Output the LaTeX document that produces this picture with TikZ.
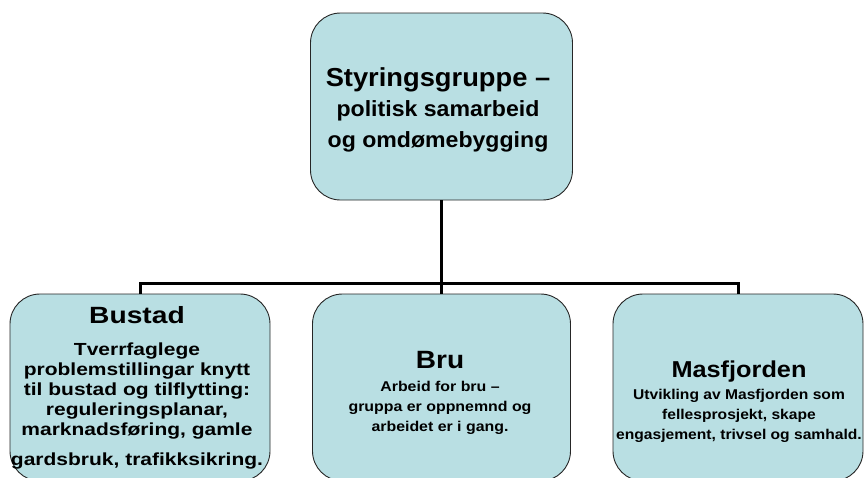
\documentclass[tikz,border=0pt]{standalone}
\usepackage{fontspec}
\setmainfont{Liberation Sans}
\usepackage{xcolor}
\usetikzlibrary{positioning}
\definecolor{boxblue}{RGB}{185,223,227}

\begin{document}
\begin{tikzpicture} [x = 1pt, y = -1pt,
	box/.style = {draw=black!85, fill=boxblue, line width=0.9pt, rounded corners=30pt, inner sep=0pt},
	txt/.style = {inner sep=0pt, align=center, anchor=north},
	link/.style = {line width=3pt}]
			\useasboundingbox (0,0) rectangle (864,477);
			\clip (0,0) rectangle (864,477);
			
			\node[box, minimum width=262pt, minimum height=187pt] (styr) at (441.5,106.5) {};
			\node[box, minimum width=260pt, minimum height=187pt] (bustad) at (140,387.5) {};
			\node[box, minimum width=258pt, minimum height=187pt] (bru) at (441.5,387.5) {};
			\node[box, minimum width=250pt, minimum height=187pt] (masfj) at (738,387.5) {};
			
			\coordinate (hub) at (441.5,283);
			\draw [link] (styr) -- (hub);
			\draw [link] (bustad) |- (hub) -| (masfj);
			\draw [link] (hub) -- (bru);
			
			\node[txt, xscale=1.05, font=\bfseries\fontsize{22}{30.5}\selectfont] (styrtxt) at (438,67)
			{{\fontsize{26}{30.5}\selectfont Styringsgruppe –}\\
			politisk samarbeid\\ og omdømebygging};
			
			\node[txt, xscale=1.2, font=\bfseries\fontsize{17.5}{20}\selectfont] (bustadtxt) at (137,306)
			{{\fontsize{23.5}{20}\selectfont Bustad}\\[12pt]
			Tverrfaglege\\ problemstillingar knytt\\ til bustad og tilflytting:\\
			reguleringsplanar,\\ marknadsføring, gamle\\[10pt] gardsbruk, trafikksikring.};
			
			\node[txt, xscale=1.12, font=\bfseries\fontsize{14.2}{20}\selectfont] (brutxt) at (440,351)
			{{\fontsize{25}{20}\selectfont Bru}\\[3pt]
			Arbeid for bru –\\ gruppa er oppnemnd og\\ arbeidet er i gang.};
			
			\node[txt, xscale=1.1, font=\bfseries\fontsize{14.2}{20}\selectfont] (masfjtxt) at (739,361)
			{{\fontsize{23}{20}\selectfont Masfjorden}\\[1.5pt]
			Utvikling av Masfjorden som\\ fellesprosjekt, skape\\ engasjement, trivsel og samhald.};
		\end{tikzpicture}
\end{document}
